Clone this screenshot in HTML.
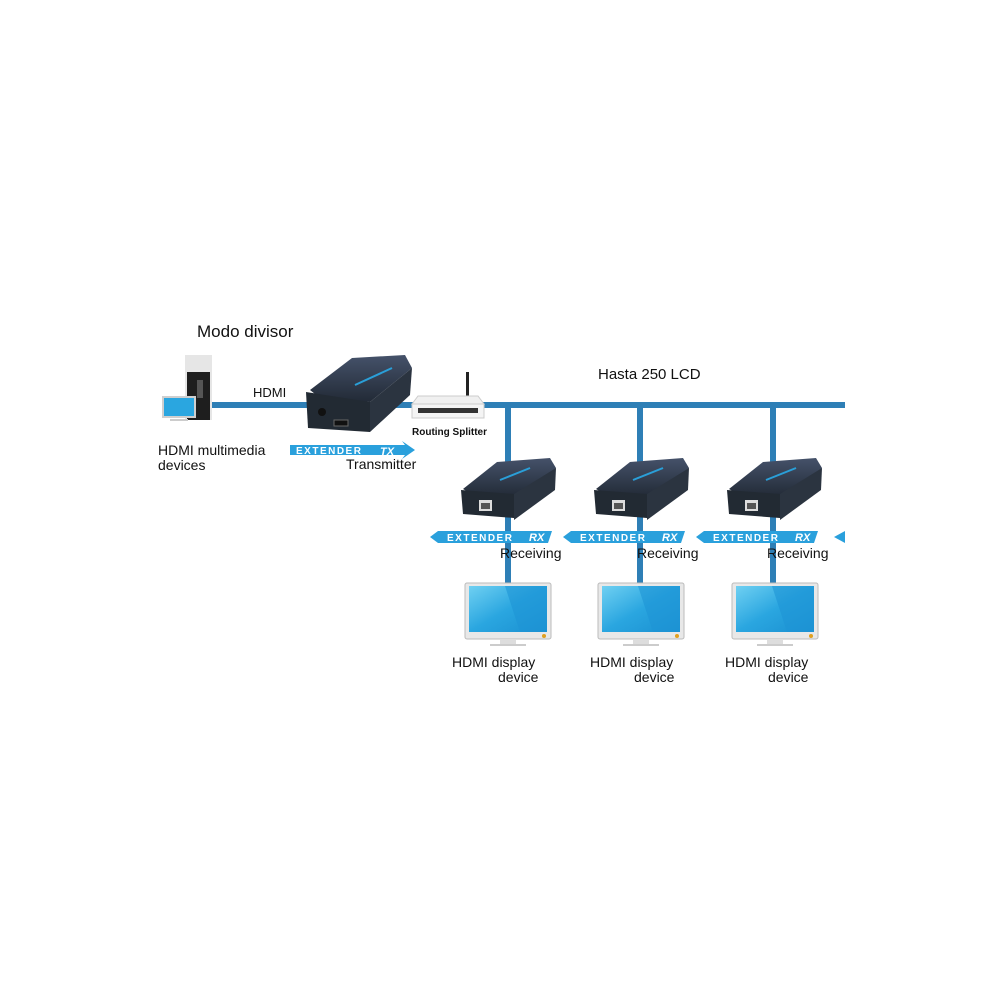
<!DOCTYPE html>
<html><head><meta charset="utf-8"><style>
html,body{margin:0;padding:0;background:#fff}
svg{display:block}
text{font-family:"Liberation Sans",sans-serif;fill:#111}
</style></head><body>
<svg width="1000" height="1000" viewBox="0 0 1000 1000" xmlns="http://www.w3.org/2000/svg">
<defs>
<linearGradient id="scr" x1="0" y1="0" x2="1" y2="1">
<stop offset="0" stop-color="#6fd0f2"/><stop offset="0.5" stop-color="#2aa6e0"/><stop offset="1" stop-color="#1a8fd0"/>
</linearGradient>
<linearGradient id="box" x1="0" y1="0" x2="0" y2="1">
<stop offset="0" stop-color="#45526a"/><stop offset="1" stop-color="#222a36"/>
</linearGradient>
<g id="rx">
<polygon points="463,489 497,462 550,458 556,468 522,497 470,493" fill="url(#box)"/>
<polygon points="461,490 514,494 514,518 463,514" fill="#222a33"/>
<polygon points="514,494 556,468 555,490 514,520" fill="#2b3440"/>
<rect x="479" y="500" width="13" height="11" fill="#ddd"/>
<rect x="481" y="503" width="9" height="6" fill="#555"/>
<line x1="500" y1="480" x2="530" y2="468" stroke="#2a9fd8" stroke-width="2"/>
</g>
<g id="mon">
<rect x="465" y="583" width="86" height="56" rx="2" fill="#e8e8e8" stroke="#bbb"/>
<rect x="469" y="586" width="78" height="46" fill="url(#scr)"/>
<polygon points="505,586 547,586 547,632 520,632" fill="#1e95d5" opacity="0.6"/>
<circle cx="544" cy="636" r="2" fill="#e0a020"/>
<rect x="500" y="639" width="16" height="5" fill="#ddd"/>
<rect x="490" y="644" width="36" height="2" fill="#ccc"/>
</g>
<g id="rxban">
<polygon points="430,537 438,531 552,531 548,543 438,543" fill="#2aa0dc"/>
<text x="447" y="541" font-size="10" font-weight="bold" style="fill:#fff;letter-spacing:1.5px">EXTENDER</text>
<text x="529" y="541" font-size="11" font-weight="bold" font-style="italic" style="fill:#fff">RX</text>
</g>
</defs>

<text x="197" y="337" font-size="17">Modo divisor</text>
<text x="598" y="379" font-size="15">Hasta 250 LCD</text>
<text x="253" y="397" font-size="13">HDMI</text>

<rect x="200" y="402" width="645" height="6" fill="#2e7fb6"/>
<rect x="505" y="405" width="6" height="180" fill="#2e7fb6"/>
<rect x="637" y="405" width="6" height="180" fill="#2e7fb6"/>
<rect x="770" y="405" width="6" height="180" fill="#2e7fb6"/>

<rect x="185" y="355" width="27" height="65" fill="#e6e6e6"/>
<rect x="187" y="372" width="23" height="48" fill="#1e1e1e"/>
<rect x="197" y="380" width="6" height="18" fill="#555"/>
<rect x="163" y="397" width="32" height="20" fill="#2aa6e0" stroke="#cfcfcf" stroke-width="2"/>
<rect x="170" y="419" width="18" height="2" fill="#ccc"/>
<text x="158" y="455" font-size="14">HDMI multimedia</text>
<text x="158" y="470" font-size="14">devices</text>

<polygon points="310,390 352,358 405,355 412,368 370,402 320,398" fill="url(#box)"/>
<polygon points="306,392 370,402 370,432 308,428" fill="#222a33"/>
<polygon points="370,402 412,368 410,395 370,432" fill="#2b3440"/>
<circle cx="322" cy="412" r="4" fill="#111"/>
<rect x="334" y="420" width="14" height="6" fill="#111" stroke="#666"/>
<line x1="355" y1="385" x2="392" y2="368" stroke="#2a9fd8" stroke-width="2"/>

<polygon points="290,445 405,445 402,441 415,450 402,459 405,455 290,455" fill="#2aa0dc"/>
<text x="296" y="454" font-size="10" font-weight="bold" style="fill:#fff;letter-spacing:1.5px">EXTENDER</text>
<text x="380" y="455" font-size="11" font-weight="bold" font-style="italic" style="fill:#fff">TX</text>
<text x="346" y="469" font-size="14">Transmitter</text>

<rect x="466" y="372" width="3" height="26" fill="#222"/>
<polygon points="418,396 478,396 484,404 412,404" fill="#f0f0f0" stroke="#ccc"/>
<rect x="412" y="404" width="72" height="14" fill="#f4f4f4" stroke="#ccc"/>
<rect x="418" y="408" width="60" height="5" fill="#333"/>
<text x="412" y="435" font-size="10" font-weight="bold">Routing Splitter</text>

<use href="#rx"/>
<use href="#rx" x="133"/>
<use href="#rx" x="266"/>
<use href="#rxban"/>
<use href="#rxban" x="133"/>
<use href="#rxban" x="266"/>
<polygon points="834,537 845,531 845,543" fill="#2aa0dc"/>
<text x="500" y="558" font-size="14">Receiving</text>
<text x="637" y="558" font-size="14">Receiving</text>
<text x="767" y="558" font-size="14">Receiving</text>

<use href="#mon"/>
<use href="#mon" x="133"/>
<use href="#mon" x="267"/>
<text x="452" y="667" font-size="14">HDMI display</text>
<text x="498" y="682" font-size="14">device</text>
<text x="590" y="667" font-size="14">HDMI display</text>
<text x="634" y="682" font-size="14">device</text>
<text x="725" y="667" font-size="14">HDMI display</text>
<text x="768" y="682" font-size="14">device</text>
</svg>
</body></html>
